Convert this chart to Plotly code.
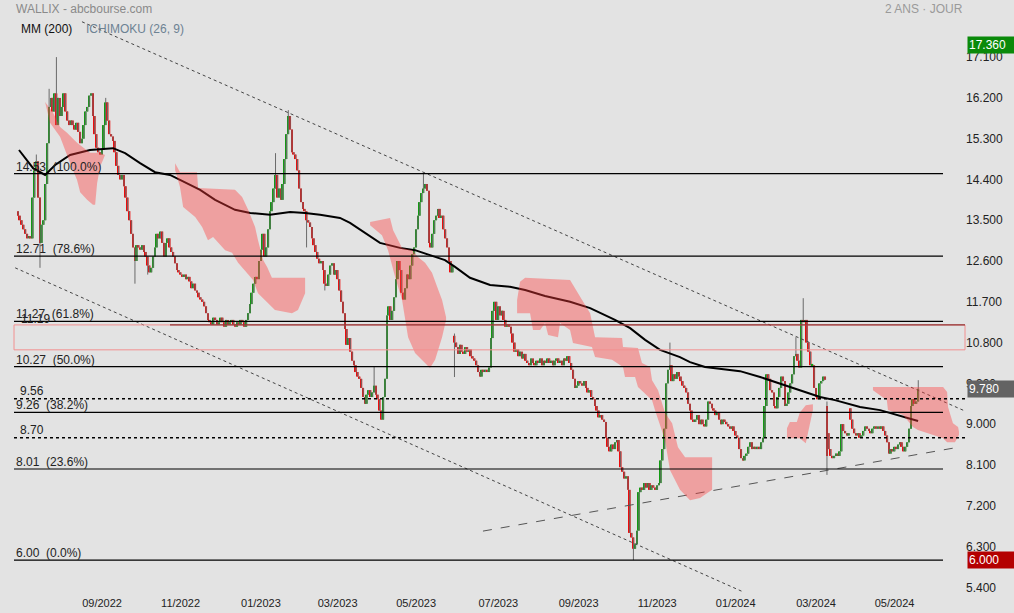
import numpy as np
import pandas as pd
import plotly.graph_objects as go

# ---------------- data ----------------
start_date = "2022-06-29"   # first daily candle (business days)

close_jun22 = [13.6, 13.5]
close_jul22 = [13.4, 13.3, 13.2, 13.1, 13.15, 13.1, 14.0, 14.6, 14.8, 14.0, 13.0, 13.4, 13.5, 14.3, 15.2,
               16.0, 16.2, 15.9, 16.3, 15.6, 16.2]
close_aug22 = [15.8, 16.0, 16.3, 15.9, 15.7, 15.6, 15.7, 15.6, 15.5, 15.65, 15.45, 15.2, 15.3, 15.6, 15.9,
               16.0, 16.25, 16.3, 15.8, 15.4, 15.1, 15.0, 14.95]
close_sep22 = [15.05, 15.6, 16.1, 15.7, 15.4, 15.35, 15.25, 15.0, 14.7, 14.5, 14.4, 14.5, 14.25, 14.0, 13.7,
               13.5, 13.2, 12.9, 12.6, 12.95, 12.9, 12.85]
close_oct22 = [12.95, 12.8, 12.7, 12.5, 12.35, 12.45, 12.7, 12.9, 13.2, 13.1, 13.25, 13.0, 12.7, 13.0, 13.1,
               12.9, 12.8, 12.7, 12.55, 12.4, 12.35]
close_nov22 = [12.3, 12.25, 12.3, 12.2, 12.25, 12.15, 12.0, 12.1, 11.95, 11.9, 11.8, 11.75, 11.7, 11.6, 11.45,
               11.3, 11.25, 11.2, 11.35, 11.3, 11.2, 11.25]
close_dec22 = [11.35, 11.25, 11.15, 11.3, 11.2, 11.25, 11.3, 11.2, 11.15, 11.25, 11.2, 11.3, 11.25, 11.15, 11.3,
               11.45, 11.65, 11.9, 12.1, 12.25, 12.2, 12.6]
close_jan23 = [12.85, 13.2, 12.7, 12.9, 13.3, 13.7, 13.9, 14.2, 14.5, 14.0, 14.2, 13.95, 14.3, 14.85, 15.4,
               15.8, 15.5, 15.0, 14.95, 14.85, 14.6, 14.2]
close_feb23 = [13.9, 13.75, 13.7, 13.5, 13.45, 13.35, 13.1, 12.95, 12.8, 12.65, 12.55, 12.6, 12.4, 12.1, 12.05,
               12.3, 12.5, 12.55, 12.3, 12.4]
close_mar23 = [12.2, 11.95, 11.7, 11.45, 11.1, 10.75, 10.9, 10.6, 10.4, 10.3, 10.15, 10.05, 10.0, 9.8, 9.6,
               9.45, 9.65, 9.75, 9.6, 9.7, 9.85, 9.65, 9.55]
close_apr23 = [9.3, 9.1, 9.6, 10.0, 11.4, 11.6, 11.3, 11.5, 11.8, 12.2, 12.6, 12.4, 11.9, 11.75, 12.0,
               12.3, 12.2, 12.5, 12.75, 12.9]
close_may23 = [13.3, 13.6, 13.9, 14.1, 14.2, 14.3, 14.15, 13.0, 12.9, 13.2, 13.5, 13.6, 13.75, 13.55, 13.6,
               13.3, 13.1, 12.9, 12.6, 12.35, 12.5, 10.8, 10.7]
close_jun23 = [10.55, 10.75, 10.6, 10.55, 10.7, 10.6, 10.65, 10.5, 10.45, 10.4, 10.3, 10.15, 10.05, 10.2, 10.15,
               10.2, 10.15, 10.25, 10.9, 11.5, 11.7, 11.3]
close_jul23 = [11.6, 11.4, 11.5, 11.3, 11.15, 11.2, 11.15, 11.0, 10.8, 10.6, 10.65, 10.5, 10.6, 10.45, 10.55,
               10.4, 10.35, 10.3, 10.45, 10.35, 10.3]
close_aug23 = [10.4, 10.35, 10.45, 10.3, 10.4, 10.35, 10.45, 10.35, 10.4, 10.3, 10.4, 10.45, 10.35, 10.4, 10.3,
               10.45, 10.4, 10.5, 10.35, 10.2, 10.0, 9.8, 9.85]
close_sep23 = [9.95, 9.9, 9.85, 9.95, 9.8, 9.7, 9.75, 9.6, 9.55, 9.4, 9.3, 9.15, 9.2, 9.1, 9.05,
               8.7, 8.5, 8.4, 8.55, 8.45, 8.6]
close_oct23 = [8.65, 8.4, 8.05, 7.95, 7.8, 7.85, 7.55, 6.6, 6.5, 6.25, 6.35, 6.65, 7.5, 7.6, 7.55,
               7.7, 7.6, 7.7, 7.55, 7.65, 7.6, 7.55]
close_nov23 = [7.65, 7.7, 8.2, 8.45, 8.9, 9.9, 10.2, 10.3, 9.95, 10.1, 10.0, 10.15, 10.05, 9.95, 9.85,
               9.8, 9.7, 9.45, 9.3, 9.1, 9.05, 9.1]
close_dec23 = [9.2, 9.0, 9.1, 9.0, 8.95, 9.1, 9.5, 9.45, 9.35, 9.3, 9.2, 9.25, 9.1, 9.0, 9.1,
               9.05, 9.0, 8.95, 8.9, 8.95, 8.85]
close_jan24 = [8.75, 8.7, 8.45, 8.25, 8.2, 8.3, 8.35, 8.5, 8.6, 8.45, 8.5, 8.45, 8.5, 8.45, 8.6,
               8.7, 9.4, 10.1, 10.0, 9.75, 9.7, 9.4, 9.35]
close_feb24 = [9.6, 9.8, 10.05, 9.95, 9.4, 9.45, 9.7, 9.9, 10.1, 10.5, 10.55, 10.4, 10.25, 11.3, 11.25,
               11.3, 10.8, 10.6, 10.3, 10.3, 9.8]
close_mar24 = [9.6, 9.55, 9.9, 9.95, 10.05, 9.98, 8.3, 8.45, 8.3, 8.25, 8.3, 8.35, 8.3, 8.4, 9.0,
               8.85, 8.8, 8.75, 8.8, 9.1, 8.9]
close_apr24 = [8.8, 8.75, 8.8, 8.7, 8.75, 8.85, 8.95, 8.9, 8.85, 8.8, 8.9, 8.95, 8.9, 8.95, 8.9,
               8.95, 8.85, 8.75, 8.6, 8.35, 8.45, 8.4]
close_may24 = [8.5, 8.45, 8.55, 8.6, 8.5, 8.4, 8.5, 8.6, 8.9, 9.4, 9.55, 9.45, 9.5, 9.78]

first_open = 13.7
gap_open = {239: 10.95, 443: 9.4, 444: 8.8, 456: 9.35}
wick_high = {10: 14.95, 17: 16.4, 21: 17.1, 48: 16.2, 141: 14.98, 148: 15.93, 195: 10.26,
             222: 14.54, 239: 11.0, 357: 10.8, 426: 10.92, 430: 11.78, 443: 9.5, 493: 9.97}
wick_low = {12: 12.45, 64: 12.1, 71: 12.3, 158: 12.9, 168: 11.95, 239: 10.04, 337: 6.0, 443: 7.88}

# moving average MM(200) (index, value)
ma_idx = [0.5, 8.2, 14.8, 20.3, 28.5, 39.4, 52, 58.6, 66.8, 75, 83.2, 88.7, 99.7, 107.9, 118.8, 127.1,
          138, 149, 157.2, 165.4, 176.3, 181.8, 190, 198.2, 209.2, 217.4, 225.6, 233.8, 239.3, 247.5,
          258.5, 269.4, 277.7, 288.6, 302.3, 313.3, 326.9, 335.2, 343.4, 351.6, 362.5, 368, 376.2,
          384.4, 395.4, 406.4, 414.6, 422.8, 431, 439.2, 447.4, 455.6, 461.1, 472.1, 483, 492.9]
ma_val = [15.05, 14.65, 14.50, 14.72, 14.94, 15.05, 15.09, 14.98, 14.76, 14.56, 14.50, 14.39, 14.17,
          13.95, 13.73, 13.66, 13.62, 13.68, 13.66, 13.62, 13.55, 13.44, 13.22, 13.0, 12.89, 12.84,
          12.73, 12.62, 12.47, 12.23, 12.07, 12.03, 11.96, 11.83, 11.70, 11.56, 11.30, 11.12, 10.86,
          10.64, 10.48, 10.37, 10.26, 10.22, 10.17, 10.04, 9.93, 9.82, 9.71, 9.60, 9.53, 9.44, 9.38,
          9.31, 9.18, 9.07]

# Ichimoku cloud (bearish parts), upper and lower edges per patch
cloud1_ux = [14.8, 19.2, 23, 26.8, 32.3, 35.6, 39.4, 44.9, 47.6]
cloud1_uy = [16.11, 15.87, 15.56, 15.43, 15.21, 15.1, 14.99, 14.99, 14.94]
cloud1_lx = [14.8, 17.5, 23, 28.5, 32.3, 34, 37.8, 41, 42.2, 43.3, 44.9, 46.5, 47.6]
cloud1_ly = [16.11, 15.65, 15.34, 14.76, 14.39, 14.12, 13.95, 13.84, 13.84, 14.32, 14.68, 14.83, 14.94]

cloud2_ux = [86, 88.7, 98, 98.6, 118.8, 122.7, 126, 129.8, 131.4, 134.2, 136.4, 139, 157.2]
cloud2_uy = [14.76, 14.56, 14.56, 14.21, 14.17, 14.01, 13.73, 13.35, 13.06, 12.62, 12.47, 12.23, 12.23]
cloud2_lx = [86, 88.7, 90.4, 97, 100.8, 104, 106.8, 113.4, 117.2, 120.5, 125.4, 128.7, 131.4, 135.3,
             140.7, 150, 153.3, 157.2]
cloud2_ly = [14.61, 14.23, 13.79, 13.57, 13.35, 13.06, 13.13, 12.84, 12.78, 12.56, 12.34, 12.18, 11.89,
             11.74, 11.52, 11.45, 11.52, 11.89]

cloud3_ux = [192.8, 203.7, 205.4, 210.3, 215.8, 219, 222.9, 226.7, 229.5, 232.2, 234.4]
cloud3_uy = [13.46, 13.55, 13.28, 12.89, 12.84, 12.69, 12.56, 12.34, 12.03, 11.74, 11.36]
cloud3_lx = [192.8, 199.3, 202.6, 206.5, 210.3, 211.9, 213.6, 217.4, 222.9, 225.6, 228.4, 232.2, 234.4]
cloud3_ly = [13.39, 13.17, 12.84, 12.25, 11.74, 11.30, 10.92, 10.57, 10.35, 10.24, 10.42, 10.92, 11.30]

cloud4_ux = [273.3, 274.9, 277.7, 302.3, 308.9, 313.3, 316, 330.8, 331.3, 339.5, 341.7, 346.1, 347.2,
             350.5, 354.3, 358.2, 361.4, 365.3, 380.1]
cloud4_uy = [11.74, 12.14, 12.23, 12.18, 11.74, 11.45, 10.92, 10.90, 10.70, 10.68, 10.35, 10.26, 9.97,
             9.75, 9.25, 9.02, 8.49, 8.27, 8.27]
cloud4_lx = [273.3, 280.4, 282, 285.9, 288.6, 290.3, 295.7, 296.8, 302.3, 303.9, 314.3, 316, 325.3,
             331.3, 332.4, 337.9, 339.5, 347.2, 348.8, 350.5, 354.3, 357, 362.5, 368, 373.5, 380.1]
cloud4_ly = [11.45, 11.45, 11.08, 11.08, 11.23, 10.97, 10.92, 11.23, 11.08, 10.79, 10.70, 10.48, 10.42,
             10.26, 10.04, 10.04, 9.82, 9.53, 9.31, 9.09, 8.65, 7.99, 7.55, 7.32, 7.37, 7.55]

cloud5_ux = [421.1, 422.7, 426.5, 428.1, 431.4, 435.3]
cloud5_uy = [8.91, 9.05, 9.05, 9.25, 9.42, 9.44]
cloud5_lx = [421.1, 428.1, 431.4, 433.6, 435.3, 435.3]
cloud5_ly = [8.69, 8.69, 8.58, 8.98, 9.31, 9.44]

cloud6_ux = [468.2, 506.6, 508.8, 509.3, 512, 514.8, 515.3]
cloud6_uy = [9.82, 9.82, 9.71, 9.38, 9.02, 8.94, 8.83]
cloud6_lx = [468.2, 475.8, 476.4, 484.7, 486.9, 490.1, 492.8, 495.6, 506.6, 508.8, 513.1, 515.3]
cloud6_ly = [9.75, 9.53, 9.31, 9.20, 9.09, 8.94, 8.87, 8.83, 8.69, 8.60, 8.60, 8.76]

# Fibonacci retracement levels
fib_levels = [14.53, 12.71, 11.27, 10.27, 9.26, 8.01, 6.00]
fib_pcts = [100.0, 78.6, 61.8, 50.0, 38.2, 23.6, 0.0]
support_levels = [9.56, 8.70]
zone_low, zone_high = 10.64, 11.19

# trendlines (index, price)
tl_upper_x, tl_upper_y = [35.0, 518.6], [17.88, 9.29]
tl_lower_x, tl_lower_y = [-1.6, 397.6], [12.45, 5.29]
tl_rise_x, tl_rise_y = [254.6, 512.0], [6.64, 8.47]

# price tags on the right axis
tag_values = [17.36, 9.78, 6.00]
tag_colors = ["#0a8a0a", "#636363", "#b40000"]

tick_months = ["2022-09", "2022-11", "2023-01", "2023-03", "2023-05", "2023-07",
               "2023-09", "2023-11", "2024-01", "2024-03", "2024-05"]
ytick_vals = [5.4, 6.3, 7.2, 8.1, 9.0, 9.9, 10.8, 11.7, 12.6, 13.5, 14.4, 15.3, 16.2, 17.1]

# ---------------- build ----------------
months = [close_jun22, close_jul22, close_aug22, close_sep22, close_oct22, close_nov22, close_dec22,
          close_jan23, close_feb23, close_mar23, close_apr23, close_may23, close_jun23, close_jul23,
          close_aug23, close_sep23, close_oct23, close_nov23, close_dec23, close_jan24, close_feb24,
          close_mar24, close_apr24, close_may24]
closes = np.array([v for m in months for v in m], dtype=float)
N = len(closes)
idx = np.arange(N)

opens = np.empty(N)
opens[0] = first_open
opens[1:] = closes[:-1]
for k, v in gap_open.items():
    opens[k] = v
highs = np.maximum(opens, closes)
lows = np.minimum(opens, closes)
for k, v in wick_high.items():
    highs[k] = v
for k, v in wick_low.items():
    lows[k] = v

UP, DOWN = "#139a13", "#ee0c0c"
colors = [UP if c >= o else DOWN for o, c in zip(opens, closes)]
body_base = np.minimum(opens, closes)
body_h = np.maximum(np.abs(closes - opens), 0.03)

dates = pd.bdate_range(start_date, periods=N + 40)
tickvals = [int(np.searchsorted(dates.values, np.datetime64(m + "-01"))) for m in tick_months]
ticktext = [pd.Timestamp(m + "-01").strftime("%m/%Y") for m in tick_months]

fig = go.Figure()

# wicks
wx, wy = [], []
for i in range(N):
    wx += [i, i, None]
    wy += [lows[i], highs[i], None]
fig.add_trace(go.Scatter(x=wx, y=wy, mode="lines", line=dict(color="#6a6a6a", width=1),
                         hoverinfo="skip"))
# bodies
fig.add_trace(go.Bar(x=idx, y=body_h, base=body_base, marker=dict(color=colors, line=dict(width=0)),
                     width=1.0))

# moving average
fig.add_trace(go.Scatter(x=ma_idx, y=ma_val, mode="lines", line=dict(color="black", width=2)))

# trendlines
fig.add_trace(go.Scatter(x=tl_upper_x, y=tl_upper_y, mode="lines",
                         line=dict(color="#444444", width=1, dash="dot")))
fig.add_trace(go.Scatter(x=tl_lower_x, y=tl_lower_y, mode="lines",
                         line=dict(color="#444444", width=1, dash="dot")))
fig.add_trace(go.Scatter(x=tl_rise_x, y=tl_rise_y, mode="lines",
                         line=dict(color="#555555", width=1, dash="dash")))

# cloud patches (drawn over the candles, translucent)
for ux, uy, lx, ly in [(cloud1_ux, cloud1_uy, cloud1_lx, cloud1_ly),
                       (cloud2_ux, cloud2_uy, cloud2_lx, cloud2_ly),
                       (cloud3_ux, cloud3_uy, cloud3_lx, cloud3_ly),
                       (cloud4_ux, cloud4_uy, cloud4_lx, cloud4_ly),
                       (cloud5_ux, cloud5_uy, cloud5_lx, cloud5_ly),
                       (cloud6_ux, cloud6_uy, cloud6_lx, cloud6_ly)]:
    fig.add_trace(go.Scatter(x=list(ux) + list(lx)[::-1], y=list(uy) + list(ly)[::-1],
                             mode="lines", fill="toself", fillcolor="rgba(255,60,60,0.4)",
                             line=dict(width=0), hoverinfo="skip"))

PW = 965.0  # plot width in px
shapes = []
annotations = []
FONT = "Arial, Liberation Sans, sans-serif"
for lvl, pct in zip(fib_levels, fib_pcts):
    shapes.append(dict(type="line", xref="paper", yref="y", x0=14 / PW, x1=943 / PW, y0=lvl, y1=lvl,
                       line=dict(color="black", width=1.2), layer="above"))
    annotations.append(dict(xref="paper", yref="y", x=14 / PW, y=lvl, xanchor="left", yanchor="bottom",
                            text=f"{lvl:.2f}  ({pct:.1f}%)", showarrow=False, yshift=-2,
                            font=dict(size=12, color="#222", family=FONT)))
for lvl in support_levels:
    shapes.append(dict(type="line", xref="paper", yref="y", x0=14 / PW, x1=1.0, y0=lvl, y1=lvl,
                       line=dict(color="black", width=1.5, dash="dot"), layer="above"))
    annotations.append(dict(xref="paper", yref="y", x=18 / PW, y=lvl, xanchor="left", yanchor="bottom",
                            text=f"{lvl:.2f}", showarrow=False, yshift=-1,
                            font=dict(size=12, color="#222", family=FONT)))
shapes.append(dict(type="rect", xref="paper", yref="y", x0=14 / PW, x1=1.0, y0=zone_low, y1=zone_high,
                   line=dict(color="#f29090", width=1), fillcolor="rgba(0,0,0,0)", layer="above"))
shapes.append(dict(type="line", xref="paper", yref="y", x0=170 / PW, x1=1.0, y0=zone_high, y1=zone_high,
                   line=dict(color="#7a1414", width=1), layer="above"))
annotations.append(dict(xref="paper", yref="y", x=19 / PW, y=zone_high, xanchor="left", yanchor="bottom",
                        text=f"{zone_high:.2f}", showarrow=False, yshift=-3,
                        font=dict(size=12, color="#222", family=FONT)))

for v, c in zip(tag_values, tag_colors):
    annotations.append(dict(xref="paper", yref="y", x=1.0, y=v, xanchor="left", yanchor="middle",
                            text=f"{v:.3f}", showarrow=False, xshift=2, bgcolor=c, width=44,
                            align="left", borderpad=1, font=dict(size=12, color="white", family=FONT)))

PH = 595.0
annotations += [
    dict(xref="paper", yref="paper", x=14 / PW, y=1 - 9 / PH, xanchor="left", yanchor="middle",
         text="WALLIX - abcbourse.com", showarrow=False, font=dict(size=12, color="#8a8a8a", family=FONT)),
    dict(xref="paper", yref="paper", x=1.0, y=1 - 9 / PH, xanchor="right", yanchor="middle",
         text="2 ANS · JOUR", showarrow=False, font=dict(size=12, color="#9a9a9a", family=FONT)),
    dict(xref="paper", yref="paper", x=19 / PW, y=1 - 29 / PH, xanchor="left", yanchor="middle",
         text="MM (200)", showarrow=False, font=dict(size=12, color="#111", family=FONT)),
    dict(xref="paper", yref="paper", x=84 / PW, y=1 - 29 / PH, xanchor="left", yanchor="middle",
         text="ICHIMOKU (26, 9)", showarrow=False, font=dict(size=12, color="#6d8293", family=FONT)),
]

fig.update_layout(
    width=1014, height=613,
    margin=dict(l=0, r=49, t=0, b=18),
    paper_bgcolor="#e3e3e3", plot_bgcolor="#e3e3e3",
    showlegend=False, barmode="overlay",
    font=dict(family=FONT, size=12, color="#222"),
    shapes=shapes, annotations=annotations,
    xaxis=dict(range=[-9.9, 518.6], tickvals=tickvals, ticktext=ticktext, showgrid=False,
               zeroline=False, showline=False, ticks="", tickfont=dict(size=11, color="#222")),
    yaxis=dict(side="right", range=[5.23, 18.36], tickvals=ytick_vals,
               ticktext=[f"{v:.3f}" for v in ytick_vals], showgrid=False, zeroline=False,
               showline=False, ticks="", tickfont=dict(size=12, color="#222")),
)

fig.write_html("out.html", config={"displayModeBar": False},
               post_script="document.body.style.margin='0';")
